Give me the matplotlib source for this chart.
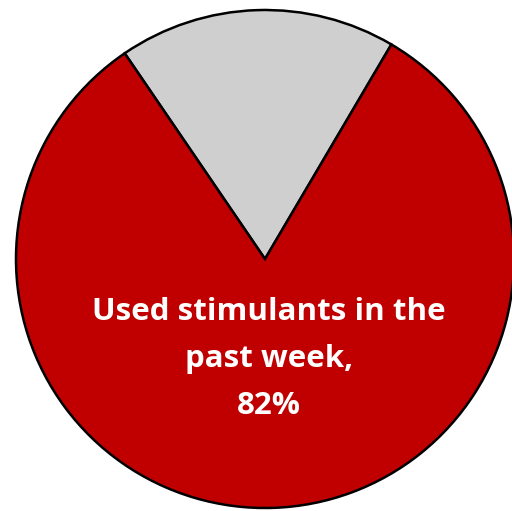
import matplotlib
matplotlib.use("Agg")
import matplotlib.pyplot as plt

labels = ["Did not use stimulants in the past week", "Used stimulants in the past week"]
values = [18, 82]
colors = ["#d0cfd0", "#c00000"]
label_text = "Used stimulants in the\npast week,\n82%"

fig = plt.figure(figsize=(5.12, 5.11), dpi=100)
ax = fig.add_axes([0, 0, 1, 1])
ax.pie(values, colors=colors, startangle=59.5, counterclock=True,
       center=(265, 252), radius=249, frame=True,
       wedgeprops=dict(edgecolor="black", linewidth=1.8))
ax.set_xlim(0, 512)
ax.set_ylim(0, 511)
ax.set_aspect("equal")
ax.axis("off")
ax.text(269, 152, label_text, ha="center", va="center", color="white",
        fontsize=22.5, fontweight="bold", linespacing=1.72,
        family=["Open Sans", "DejaVu Sans"])
fig.savefig("out.png", dpi=100)
